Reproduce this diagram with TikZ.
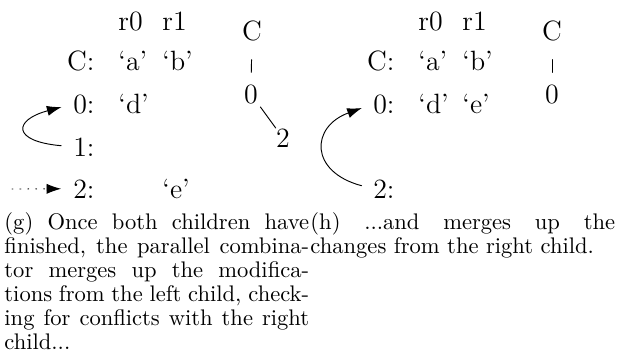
\documentclass[tikz,border=0pt]{standalone}
\usetikzlibrary{arrows.meta}

\begin{document}
\begin{tikzpicture}[x=0.43pt, y=0.43pt, line cap=round,
	>={Latex[length=6.3pt,width=4.4pt]},
	cell/.style={font=\large, inner sep=0pt, anchor=base west},
	rowlbl/.style={font=\large, inner sep=0pt, anchor=base east},
	treenode/.style={font=\large, inner sep=0pt, anchor=base},
	subcap/.style={font=\fontsize{9.7pt}{10.4pt}\selectfont, inner sep=0pt,
		anchor=base west, text width=131pt, align=justify},
	moveup/.style={->, shorten <=5pt, shorten >=5pt},
	carry/.style={->, shorten >=5pt, dash pattern=on 0.4pt off 3pt}]
	\useasboundingbox (0,0) rectangle (622,-356);

	% (g): left child merged into C
	\node[cell] (gr0) at (118,-30) {r0};
	\node[cell] (gr1) at (162,-30) {r1};
	\node[rowlbl] (gC) at (95,-70) {C:};
	\node[cell] (ga) at (118,-70) {`a'};
	\node[cell] (gb) at (162,-70) {`b'};
	\node[rowlbl] (g0) at (95,-113) {0:};
	\node[cell] (gd) at (118,-113) {`d'};
	\node[rowlbl] (g1) at (95,-156) {1:};
	\node[rowlbl] (g2) at (95,-198) {2:};
	\node[cell] (ge) at (162,-198) {`e'};
	\coordinate (gsrc) at (12,-189);
	\draw[moveup] (g1.west) to[out=175, in=195, looseness=3.7] (g0.west);
	\draw[carry] (gsrc) -- (g2.west);

	% (g): tree
	\node[treenode] (gtC) at (252,-40) {C};
	\node[treenode] (gt0) at (251,-103) {0};
	\node[treenode] (gt2) at (283,-147) {2};
	\draw[shorten <=8pt, shorten >=5pt] (gtC.south) -- (gt0.north);
	\draw[shorten <=1.5pt] (gt0.south east) -- (gt2.north west);

	% (h): right child merged into C
	\node[cell] (hr0) at (418,-30) {r0};
	\node[cell] (hr1) at (462,-30) {r1};
	\node[rowlbl] (hC) at (395,-70) {C:};
	\node[cell] (ha) at (418,-70) {`a'};
	\node[cell] (hb) at (462,-70) {`b'};
	\node[rowlbl] (h0) at (395,-113) {0:};
	\node[cell] (hd) at (418,-113) {`d'};
	\node[cell] (he) at (462,-113) {`e'};
	\node[rowlbl] (h2) at (395,-198) {2:};
	\draw[moveup] (h2.west) to[out=165, in=200, looseness=2.0] (h0.west);

	% (h): tree
	\node[treenode] (htC) at (552,-40) {C};
	\node[treenode] (ht0) at (552,-103) {0};
	\draw[shorten <=8pt, shorten >=5pt] (htC.south) -- (ht0.north);

	% captions
	\node[subcap] (gcap) at (4,-229) {(g) Once both children have\linebreak
		finished, the parallel combina-\linebreak tor merges up the modifica-\linebreak
		tions from the left child, check-\linebreak ing for conflicts with the right\linebreak
		child...};
	\node[subcap] (hcap) at (310,-229) {(h) ...and merges up the\linebreak
		changes from the right child.};
\end{tikzpicture}
\end{document}
